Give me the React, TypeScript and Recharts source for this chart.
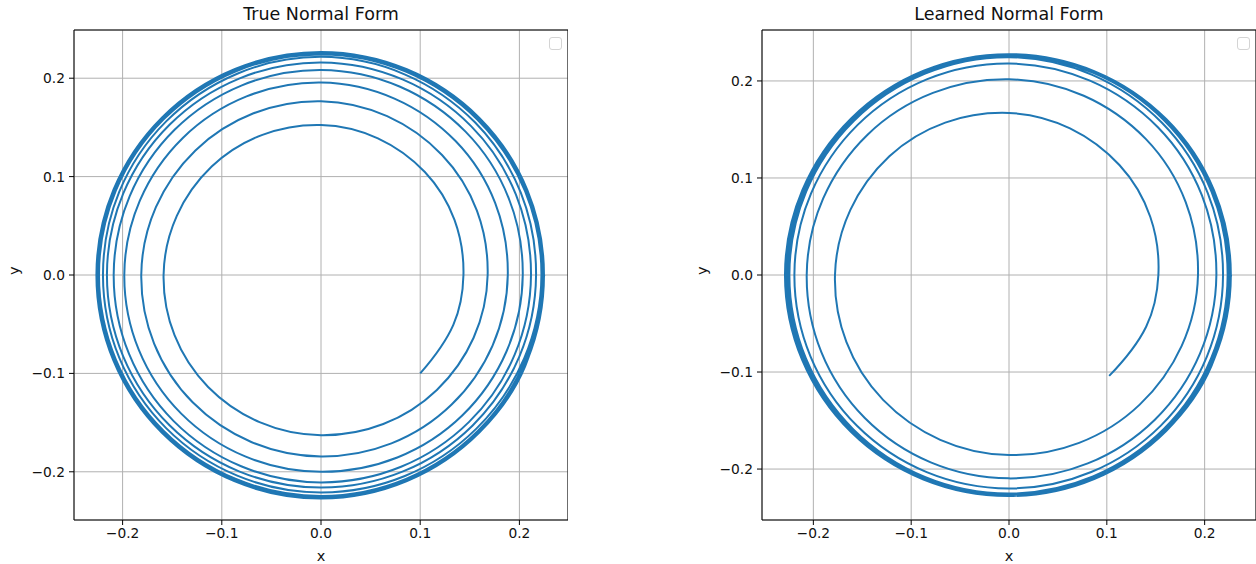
import React from "react";
import {
  LineChart,
  Line,
  XAxis,
  YAxis,
  CartesianGrid,
  ReferenceArea,
} from "recharts";

// trajectory samples (x, y), taken every eighth of a turn, counter-clockwise
const truePath: [number, number][] = [
  [0.1, -0.1], [0.1436, 0], [0.1047, 0.1047], [0, 0.1525], [-0.1102, 0.1102],
  [-0.1587, 0], [-0.1138, -0.1138], [0, -0.1628], [0.1168, -0.1168],
  [0.168, 0], [0.122, 0.122], [0, 0.1766], [-0.1266, 0.1266],
  [-0.1812, 0], [-0.1294, -0.1294], [0, -0.1844], [0.1317, -0.1317],
  [0.1883, 0], [0.1359, 0.1359], [0, 0.1957], [-0.1393, 0.1393],
  [-0.1983, 0], [-0.1409, -0.1409], [0, -0.2], [0.1426, -0.1426],
  [0.2034, 0], [0.1457, 0.1457], [0, 0.2084], [-0.1476, 0.1476],
  [-0.209, 0], [-0.1485, -0.1485], [0, -0.2108], [0.1493, -0.1493],
  [0.2117, 0], [0.1513, 0.1513], [0, 0.216], [-0.1527, 0.1527],
  [-0.2158, 0], [-0.1527, -0.1527], [0, -0.216], [0.1529, -0.1529],
  [0.2168, 0], [0.1552, 0.1552], [0, 0.2217], [-0.1561, 0.1561],
  [-0.2198, 0], [-0.1559, -0.1559], [0, -0.221], [0.1564, -0.1564],
  [0.2222, 0], [0.1578, 0.1578], [0, 0.2242], [-0.1584, 0.1584],
  [-0.2238, 0], [-0.1585, -0.1585], [0, -0.2246], [0.1583, -0.1583],
  [0.2232, 0], [0.1585, 0.1585], [0, 0.2252], [-0.1591, 0.1591],
  [-0.2248, 0], [-0.1592, -0.1592], [0, -0.2256], [0.1589, -0.1589],
  [0.2238, 0], [0.159, 0.159], [0, 0.2258], [-0.1595, 0.1595],
  [-0.2255, 0], [-0.1597, -0.1597], [0, -0.2263], [0.1593, -0.1593],
  [0.2243, 0], [0.1593, 0.1593], [0, 0.2262], [-0.1598, 0.1598],
  [-0.2259, 0], [-0.16, -0.16], [0, -0.2267], [0.1596, -0.1596],
  [0.2246, 0], [0.1595, 0.1595], [0, 0.2265], [-0.16, 0.16],
  [-0.2262, 0], [-0.1602, -0.1602], [0, -0.227], [0.1598, -0.1598],
  [0.2248, 0], [0.1597, 0.1597], [0, 0.2267], [-0.1602, 0.1602],
  [-0.2264, 0], [-0.1604, -0.1604], [0, -0.2272], [0.1599, -0.1599],
  [0.225, 0],
];

const learnedPath: [number, number][] = [
  [0.1024, -0.104], [0.1527, 0], [0.1131, 0.1131], [0, 0.167], [-0.1223, 0.1223],
  [-0.1779, 0], [-0.1287, -0.1287], [0, -0.1856], [0.1336, -0.1336],
  [0.1932, 0], [0.14, 0.14], [0, 0.2017], [-0.1446, 0.1446],
  [-0.2068, 0], [-0.1474, -0.1474], [0, -0.2096], [0.1491, -0.1491],
  [0.212, 0], [0.1522, 0.1522], [0, 0.218], [-0.1547, 0.1547],
  [-0.2194, 0], [-0.1554, -0.1554], [0, -0.22], [0.1552, -0.1552],
  [0.2188, 0], [0.1566, 0.1566], [0, 0.2245], [-0.1587, 0.1587],
  [-0.2245, 0], [-0.1591, -0.1591], [0, -0.2252], [0.1585, -0.1585],
  [0.2235, 0], [0.159, 0.159], [0, 0.226], [-0.1599, 0.1599],
  [-0.2265, 0], [-0.1602, -0.1602], [0, -0.2264], [0.1595, -0.1595],
  [0.2248, 0], [0.1598, 0.1598], [0, 0.2268], [-0.1607, 0.1607],
  [-0.2278, 0], [-0.1609, -0.1609], [0, -0.2271], [0.16, -0.16],
  [0.2258, 0], [0.1602, 0.1602], [0, 0.2272], [-0.1611, 0.1611],
  [-0.2285, 0], [-0.1614, -0.1614], [0, -0.2274], [0.1604, -0.1604],
  [0.2265, 0], [0.1605, 0.1605], [0, 0.2274], [-0.1612, 0.1612],
  [-0.2288, 0], [-0.1616, -0.1616], [0, -0.2276], [0.1606, -0.1606],
  [0.2268, 0], [0.1607, 0.1607], [0, 0.2276], [-0.1614, 0.1614],
  [-0.229, 0], [-0.1617, -0.1617], [0, -0.2278], [0.1607, -0.1607],
  [0.227, 0],
];

const axisTicks = [-0.2, -0.1, 0, 0.1, 0.2];
const titles = ["True Normal Form", "Learned Normal Form"];

const FONT = "'DejaVu Sans', sans-serif";
const BLUE = "#1f77b4";

const fmt = (v: number) => v.toFixed(1).replace("-", "\u2212");

// cardinal-style curve through the samples; handle length tuned so that
// eighth-turn samples trace round arcs. Ends get a phantom neighbour from
// quadratic extrapolation so the first/last arc keeps its bend.
const HANDLE = 0.1875;
const smoothCurve = (context: any) => {
  let pts: number[][] = [];
  const at = (i: number): number[] => {
    const n = pts.length;
    if (i >= 0 && i < n) return pts[i];
    if (n < 3) return pts[Math.min(Math.max(i, 0), n - 1)];
    if (i < 0) {
      const [a, b, c] = [pts[0], pts[1], pts[2]];
      return [3 * a[0] - 3 * b[0] + c[0], 3 * a[1] - 3 * b[1] + c[1]];
    }
    const [a, b, c] = [pts[n - 1], pts[n - 2], pts[n - 3]];
    return [3 * a[0] - 3 * b[0] + c[0], 3 * a[1] - 3 * b[1] + c[1]];
  };
  return {
    areaStart() {},
    areaEnd() {},
    lineStart() {
      pts = [];
    },
    point(x: number, y: number) {
      pts.push([+x, +y]);
    },
    lineEnd() {
      const n = pts.length;
      if (!n) return;
      context.moveTo(pts[0][0], pts[0][1]);
      for (let i = 0; i < n - 1; i++) {
        const p0 = at(i - 1);
        const p1 = pts[i];
        const p2 = pts[i + 1];
        const p3 = at(i + 2);
        context.bezierCurveTo(
          p1[0] + HANDLE * (p2[0] - p0[0]),
          p1[1] + HANDLE * (p2[1] - p0[1]),
          p2[0] - HANDLE * (p3[0] - p1[0]),
          p2[1] - HANDLE * (p3[1] - p1[1]),
          p2[0],
          p2[1]
        );
      }
    },
  };
};

type PanelProps = {
  title: string;
  path: [number, number][];
  left: number;
  width: number;
  xLim: number;
  yLim: number;
};

const Panel: React.FC<PanelProps> = ({ title, path, left, width, xLim, yLim }) => {
  const data = path.map(([x, y]) => ({ x, y }));
  const plotLeft = 74;
  const plotW = width - plotLeft;
  return (
    <div style={{ position: "absolute", left, top: 0, width, height: 564 }}>
      <div
        style={{
          position: "absolute",
          left: plotLeft,
          width: plotW,
          top: 4,
          textAlign: "center",
          fontSize: 17.5,
          color: "#111",
          fontFamily: FONT,
        }}
      >
        {title}
      </div>
      <LineChart
        width={width}
        height={564}
        data={data}
        margin={{ top: 30, right: 0, bottom: 0, left: 0 }}
      >
        <CartesianGrid stroke="#b0b0b0" strokeWidth={1} />
        <XAxis
          type="number"
          dataKey="x"
          domain={[-xLim, xLim]}
          ticks={axisTicks}
          tickFormatter={fmt}
          allowDataOverflow
          height={44}
          axisLine={false}
          tickLine={{ stroke: "#000" }}
          tickSize={5}
          tickMargin={3}
          tick={{ fill: "#111", fontSize: 13.8, fontFamily: FONT }}
          label={{
            value: "x",
            position: "insideBottom",
            offset: 3,
            style: { fill: "#111", fontSize: 14.5, fontFamily: FONT },
          }}
        />
        <YAxis
          type="number"
          dataKey="y"
          domain={[-yLim, yLim]}
          ticks={axisTicks}
          tickFormatter={fmt}
          allowDataOverflow
          width={plotLeft}
          axisLine={false}
          tickLine={{ stroke: "#000" }}
          tickSize={5}
          tickMargin={4}
          tick={{ fill: "#111", fontSize: 13.8, fontFamily: FONT }}
          label={{
            value: "y",
            angle: -90,
            position: "insideLeft",
            offset: 14,
            style: { fill: "#111", fontSize: 14.5, fontFamily: FONT },
          }}
        />
        <ReferenceArea
          x1={-xLim}
          x2={xLim}
          y1={-yLim}
          y2={yLim}
          fill="none"
          stroke="#000"
          strokeWidth={1}
          fillOpacity={0}
        />
        <Line
          type={smoothCurve as any}
          dataKey="y"
          stroke={BLUE}
          strokeWidth={2}
          dot={false}
          isAnimationActive={false}
        />
      </LineChart>
      {/* empty legend frame in the upper right corner */}
      <div
        style={{
          position: "absolute",
          left: width - 19,
          top: 37,
          width: 11,
          height: 11,
          border: "1px solid #d4d4d4",
          borderRadius: 3,
          background: "rgba(255,255,255,0.8)",
        }}
      />
    </div>
  );
};

const App: React.FC = () => (
  <div
    style={{
      position: "absolute",
      left: 0,
      top: 0,
      width: 1256,
      height: 564,
      background: "#fff",
      overflow: "hidden",
    }}
  >
    <Panel title={titles[0]} path={truePath} left={0} width={568} xLim={0.249} yLim={0.249} />
    <Panel title={titles[1]} path={learnedPath} left={688} width={568} xLim={0.2525} yLim={0.2525} />
  </div>
);

export default App;
